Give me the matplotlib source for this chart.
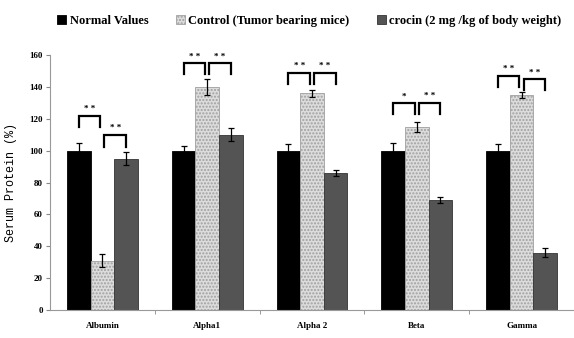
import numpy as np
import matplotlib.pyplot as plt

# data
groups = ['Albumin', 'Alpha1', 'Alpha 2', 'Beta', 'Gamma']
series = ['Normal Values', 'Control (Tumor bearing mice)', 'crocin (2 mg /kg of body weight)']
normal = [100, 100, 100, 100, 100]
normal_err = [5, 3, 4, 5, 4]
control = [31, 140, 136, 115, 135]
control_err = [4, 5, 2, 3, 2]
crocin = [95, 110, 86, 69, 36]
crocin_err = [4, 4, 2, 2, 3]

# significance brackets: (group, bar a, bar b, leg bottom, top, label)
brackets = [
    (0, 0, 1, 115, 122, '* *'), (0, 1, 2, 102, 110, '* *'),
    (1, 0, 1, 148, 155, '* *'), (1, 1, 2, 148, 155, '* *'),
    (2, 0, 1, 142, 149, '* *'), (2, 1, 2, 142, 149, '* *'),
    (3, 0, 1, 123, 130, '*'), (3, 1, 2, 123, 130, '* *'),
    (4, 0, 1, 140, 147, '* *'), (4, 1, 2, 138, 145, '* *'),
]

serif = 'Liberation Serif'

fig = plt.figure(figsize=(5.74, 3.38), dpi=100)
ax = fig.add_axes([0.087, 0.083, 0.913, 0.754])

x = np.arange(len(groups))
w = 0.225
offs = [-w, 0, w]
vals = [normal, control, crocin]
errs = [normal_err, control_err, crocin_err]
colors = ['#000000', '#dcdcdc', '#545454']
hatches = [None, '.....', None]
edges = ['#000000', '#a0a0a0', '#333333']

handles = []
for k in range(3):
    b = ax.bar(x + offs[k], vals[k], w, color=colors[k], edgecolor=edges[k],
               hatch=hatches[k], linewidth=0.6, label=series[k])
    ax.errorbar(x + offs[k], vals[k], yerr=errs[k], fmt='none', ecolor='black',
                elinewidth=0.9, capsize=2.5, capthick=0.9)
    handles.append(b)

gap = 0.02
for g, a, c, y0, y1, lab in brackets:
    xa = g + offs[a] + (gap if a == 1 else 0)
    xc = g + offs[c] - (gap if c == 1 else 0)
    ax.plot([xa, xa, xc, xc], [y0, y1, y1, y0], color='black', lw=1.6,
            solid_joinstyle='miter')
    ax.text((xa + xc) / 2, y1 + 1.5, lab, ha='center', va='bottom',
            fontsize=6.5, fontweight='bold', family=serif)

ax.set_xlim(-0.5, 4.5)
ax.set_ylim(0, 160)
ax.set_yticks(np.arange(0, 161, 20))
ax.set_yticklabels([str(v) for v in range(0, 161, 20)], fontsize=6.5,
                   fontweight='bold', family=serif)
ax.set_xticks(x)
ax.set_xticklabels(groups, fontsize=6.5, fontweight='bold', family=serif)
ax.tick_params(axis='x', length=0, pad=9)
ax.set_xticks(np.arange(0.5, 4.5, 1), minor=True)
ax.tick_params(axis='x', which='minor', length=3, color='#888888')
ax.tick_params(axis='y', length=3, color='#888888', pad=2)
ax.set_ylabel('Serum Protein (%)', fontsize=8.5, family='Liberation Mono', labelpad=9)

for s in ['top', 'right']:
    ax.spines[s].set_visible(False)
for s in ['left', 'bottom']:
    ax.spines[s].set_color('#999999')

fig.legend(handles, series, loc='upper left', bbox_to_anchor=(0.08, 0.99),
           ncol=3, frameon=False, handlelength=0.7, handleheight=0.7,
           handletextpad=0.3, columnspacing=2.2,
           prop={'family': serif, 'weight': 'bold', 'size': 9})

fig.savefig('out.png', dpi=100)
